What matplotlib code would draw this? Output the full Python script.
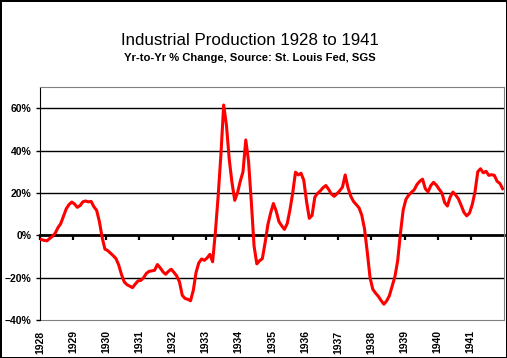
import matplotlib
matplotlib.use("Agg")
import matplotlib.pyplot as plt
from matplotlib.ticker import PercentFormatter

plt.rcParams['font.family'] = ['Liberation Sans', 'DejaVu Sans']

# year-over-year % change, monthly, Jan 1928 .. Dec 1941
pct_change = [
    -2.0, -2.4, -2.6, -1.5, -0.5, 1.0, 3.6, 5.5, 9.0, 12.5, 14.5, 15.7,          # 1928
    14.8, 13.2, 14.0, 15.8, 16.2, 15.8, 16.0, 13.5, 11.8, 6.5, -1.0, -6.5,       # 1929
    -7.2, -8.4, -9.6, -11.0, -14.0, -18.5, -22.0, -23.3, -24.0, -24.7, -23.0, -21.5,  # 1930
    -21.3, -20.0, -18.0, -17.0, -16.8, -16.5, -13.8, -15.3, -17.2, -18.4, -17.0, -16.0,  # 1931
    -17.5, -19.2, -22.0, -28.3, -29.8, -30.2, -30.9, -26.0, -17.5, -13.0, -11.2, -11.8,  # 1932
    -10.7, -9.0, -12.5, 1.5, 18.5, 38.0, 61.5, 52.0, 36.0, 25.0, 16.5, 20.0,     # 1933
    25.5, 30.0, 45.0, 35.0, 16.0, -5.0, -13.5, -12.0, -11.0, -3.5, 5.0, 10.5,    # 1934
    15.0, 11.5, 6.5, 4.5, 2.8, 5.5, 12.0, 20.0, 29.8, 28.5, 29.3, 26.0,          # 1935
    16.0, 8.0, 9.4, 18.0, 19.8, 21.0, 22.5, 23.5, 21.7, 19.5, 18.4, 19.6,        # 1936
    21.0, 22.7, 28.5, 22.5, 18.5, 16.0, 14.5, 13.0, 9.5, 3.0, -8.0, -20.0,       # 1937
    -25.5, -27.3, -28.8, -30.8, -32.5, -31.0, -28.5, -24.0, -19.5, -12.0, 1.0, 12.0,  # 1938
    17.0, 19.0, 20.3, 21.5, 24.0, 25.5, 26.5, 22.0, 20.5, 23.5, 25.0, 23.7,      # 1939
    21.8, 20.0, 15.5, 13.8, 18.0, 20.4, 19.0, 17.2, 14.1, 10.8, 9.2, 10.5,       # 1940
    14.5, 20.5, 30.0, 31.4, 29.5, 30.2, 28.3, 28.6, 28.3, 25.5, 24.5, 22.0,      # 1941
]
years = list(range(1928, 1942))
y_ticks = [-40, -20, 0, 20, 40, 60]

months = [i + 0.5 for i in range(len(pct_change))]
year_pos = [12 * k for k in range(len(years))]

fig = plt.figure(figsize=(5.07, 3.58), dpi=100)
fig.patch.set_edgecolor('black')
fig.patch.set_linewidth(2)
ax = fig.add_axes([0.0789, 0.106, 0.9152, 0.651])

for v in y_ticks:
    if v not in (0, -40):
        ax.axhline(v, color='black', lw=1.0, zorder=1)

ax.plot(months, pct_change, color='#ff0000', lw=2.2, zorder=3)

ax.set_xlim(0, 12 * len(years))
ax.set_ylim(-40, 70)
ax.set_yticks(y_ticks)
ax.yaxis.set_major_formatter(PercentFormatter(decimals=0))
ax.tick_params(axis='y', length=3, width=1, pad=3, labelsize=7.5)
for lab in ax.get_yticklabels():
    lab.set_fontweight('bold')

# zero line acts as the category axis, ticks hang from it
ax.spines['bottom'].set_position(('data', 0))
ax.spines['bottom'].set_linewidth(2)
ax.spines['bottom'].set_zorder(2)
ax.set_xticks(year_pos)
ax.tick_params(axis='x', length=3.5, width=1.6, labelbottom=False)
ax.spines['left'].set_color('black')
ax.spines['top'].set_color('#808080')
ax.spines['right'].set_color('#808080')

# labels sit along the bottom of the plot area
sec = ax.secondary_xaxis('bottom')
sec.set_xticks(year_pos)
sec.set_xticklabels([str(y) for y in years], rotation=90, fontweight='bold', fontsize=7.5)
sec.tick_params(length=0, pad=7.5)
sec.spines['bottom'].set_color('#808080')

fig.text(0.493, 0.887, 'Industrial Production 1928 to 1941', ha='center', va='center', fontsize=12.2)
fig.text(0.493, 0.837, 'Yr-to-Yr % Change, Source: St. Louis Fed, SGS', ha='center', va='center',
         fontsize=8.1, fontweight='bold')

fig.savefig('out.png', dpi=100, edgecolor=fig.get_edgecolor())
